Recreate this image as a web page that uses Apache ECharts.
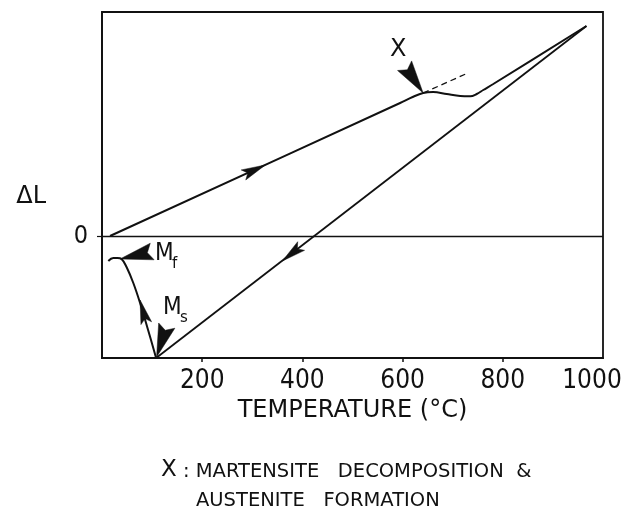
<!DOCTYPE html>
<html><head><meta charset="utf-8">
<script src="https://cdn.jsdelivr.net/npm/echarts@6/dist/echarts.min.js"></script>
<style>html,body{margin:0;padding:0;background:#fff}#c{width:623px;height:511px}</style>
</head><body><div id="c"></div>
<script>
// ---- data (temperature in °C, ΔL in arbitrary units) ----
const heatingT = [16, 595, 620, 641, 661, 688, 715, 735, 748, 761, 781, 967];
const heatingL = [0, 133, 139, 143, 144, 142, 140, 139.7, 142, 146, 152, 210];
const coolingT = [967, 108];
const coolingL = [210, -122];
const martensiteT = [108, 92, 76, 62.5, 49, 39, 31, 22.6, 12.6];
const martensiteL = [-122, -94, -67, -47, -31, -23, -22, -22, -25];
const extrapT = [641, 726];
const extrapL = [143, 162];
const xTickLabels = [200, 400, 600, 800, 1000];
const yTickLabels = [0];
// direction arrows on the curves: tip point and a point behind it
const flowTip = [[326, 71], [360, -25], [76, -64]];
const flowBack = [[290, 62.8], [400, -9], [92, -94]];
// annotation pointers
const pointerTip = [[641, 143], [36, -23], [109, -121]];
const pointerBack = [[603, 171], [96, -16], [129, -90]];
const labelMain = ['X', 'M', 'M'];
const labelSub = ['', 'f', 's'];
const labelAt = [[575, 186.5], [106, -18], [122, -72]];
const captionLine1 = ['X', ' : MARTENSITE   DECOMPOSITION  &'];
const captionLine2 = 'AUSTENITE   FORMATION';
const xTitle = 'TEMPERATURE (°C)';
const yTitle = 'ΔL';

const NARROW = '"Liberation Sans Narrow", "DejaVu Sans Condensed", sans-serif';
const WIDE = '"DejaVu Sans", sans-serif';
const INK = '#111';

function zip(a, b) { return a.map((v, i) => [v, b[i]]); }

function arrowPts(api, tip, back, L, W, notch) {
  const p1 = api.coord(tip), p0 = api.coord(back);
  let dx = p1[0] - p0[0], dy = p1[1] - p0[1];
  const d = Math.hypot(dx, dy) || 1; dx /= d; dy /= d;
  const nx = -dy, ny = dx;
  const bx = p1[0] - dx * L, by = p1[1] - dy * L;
  return [[p1[0], p1[1]], [bx + nx * W, by + ny * W],
          [p1[0] - dx * L * notch, p1[1] - dy * L * notch], [bx - nx * W, by - ny * W]];
}

function arrowSeries(name, tips, backs, L, W, notch) {
  return {
    type: 'custom', name, coordinateSystem: 'cartesian2d', silent: true, z: 5,
    encode: { x: [0, 2], y: [1, 3] },
    data: tips.map((t, i) => [t[0], t[1], backs[i][0], backs[i][1]]),
    renderItem(params, api) {
      const pts = arrowPts(api, [api.value(0), api.value(1)], [api.value(2), api.value(3)], L, W, notch);
      return { type: 'polygon', shape: { points: pts }, style: { fill: INK, stroke: INK, lineWidth: 0.5 } };
    }
  };
}

const maxTick = xTickLabels[xTickLabels.length - 1];
const chart = echarts.init(document.getElementById('c'), null, { renderer: 'canvas' });
chart.setOption({
  animation: false,
  backgroundColor: '#fff',
  grid: { left: 102, right: 20, top: 12, bottom: 153, show: true, borderColor: INK, borderWidth: 1.8,
    containLabel: false, outerBoundsMode: 'none' },
  title: [
    { text: '{x|' + captionLine1[0] + '}{c|' + captionLine1[1] + '}', left: 161, top: 459, padding: 0,
      textStyle: { fontWeight: 'normal', rich: {
        x: { fontFamily: WIDE, fontSize: 23, fontWeight: 'normal', color: INK },
        c: { fontFamily: WIDE, fontSize: 19.5, fontWeight: 'normal', color: INK, padding: [3, 0, 0, 0] } } } },
    { text: captionLine2, left: 196, top: 491, padding: 0,
      textStyle: { fontFamily: WIDE, fontSize: 19.5, fontWeight: 'normal', color: INK } }
  ],
  xAxis: {
    type: 'value', min: 0, max: 1000, interval: 200,
    name: xTitle, nameLocation: 'middle', nameGap: 40,
    nameTextStyle: { fontFamily: WIDE, fontSize: 24, color: INK },
    axisLine: { show: true, onZero: false, lineStyle: { color: INK, width: 1.8 } },
    axisTick: { show: true, inside: false, length: 4, customValues: [200, 400, 600, 800], lineStyle: { color: INK, width: 1.5 } },
    axisLabel: { margin: 10, fontFamily: NARROW, fontSize: 26, color: INK,
      customValues: xTickLabels,
      formatter: v => v === maxTick ? '{r|' + v + '}' : String(v),
      rich: { r: { fontFamily: NARROW, fontSize: 26, color: INK, padding: [0, 22, 0, 0] } } },
    splitLine: { show: false }
  },
  yAxis: {
    type: 'value', min: -122, max: 224,
    name: yTitle, nameLocation: 'middle', nameRotate: 0, nameGap: 56,
    nameTextStyle: { fontFamily: WIDE, fontSize: 24, color: INK, verticalAlign: 'top' },
    axisLine: { show: true, onZero: false, lineStyle: { color: INK, width: 1.8 } },
    axisTick: { show: true, length: 5, customValues: yTickLabels, lineStyle: { color: INK, width: 1.2 } },
    axisLabel: { margin: 14, fontFamily: NARROW, fontSize: 25, color: INK, customValues: yTickLabels,
      verticalAlign: 'middle', padding: [12, 0, 0, 0] },
    splitLine: { show: false }
  },
  series: [
    { type: 'line', name: 'heating', data: zip(heatingT, heatingL), showSymbol: false, smooth: 0.35,
      lineStyle: { color: INK, width: 2 }, silent: true,
      markLine: { silent: true, symbol: ['none', 'none'], label: { show: false },
        lineStyle: { color: INK, width: 1.3, type: 'solid' }, data: [{ yAxis: 0 }] } },
    { type: 'line', name: 'extrapolation', data: zip(extrapT, extrapL), showSymbol: false,
      lineStyle: { color: INK, width: 1.3, type: [6, 4] }, silent: true },
    { type: 'line', name: 'cooling', data: zip(coolingT, coolingL), showSymbol: false,
      lineStyle: { color: INK, width: 1.8 }, silent: true },
    { type: 'line', name: 'martensite', data: zip(martensiteT, martensiteL), showSymbol: false, smooth: 0.4,
      lineStyle: { color: INK, width: 2 }, silent: true },
    arrowSeries('flow', flowTip, flowBack, 24, 5.5, 0.8),
    arrowSeries('pointers', pointerTip, pointerBack, 33, 8.5, 0.85),
    {
      type: 'custom', name: 'labels', coordinateSystem: 'cartesian2d', silent: true, z: 6,
      encode: { x: 0, y: 1 },
      data: labelAt.map((p, i) => [p[0], p[1], i]),
      renderItem(params, api) {
        const p = api.coord([api.value(0), api.value(1)]);
        const i = api.value(2);
        const big = labelSub[i] === '';
        const children = [{ type: 'text', x: p[0], y: p[1],
          style: { text: labelMain[i], fill: INK, font: (big ? '24px ' + WIDE : '24px ' + NARROW), align: 'left', verticalAlign: 'middle' } }];
        if (!big) children.push({ type: 'text', x: p[0] + 17, y: p[1] + 10,
          style: { text: labelSub[i], fill: INK, font: '15px ' + WIDE, align: 'left', verticalAlign: 'middle' } });
        return { type: 'group', children };
      }
    }
  ]
});
</script></body></html>
